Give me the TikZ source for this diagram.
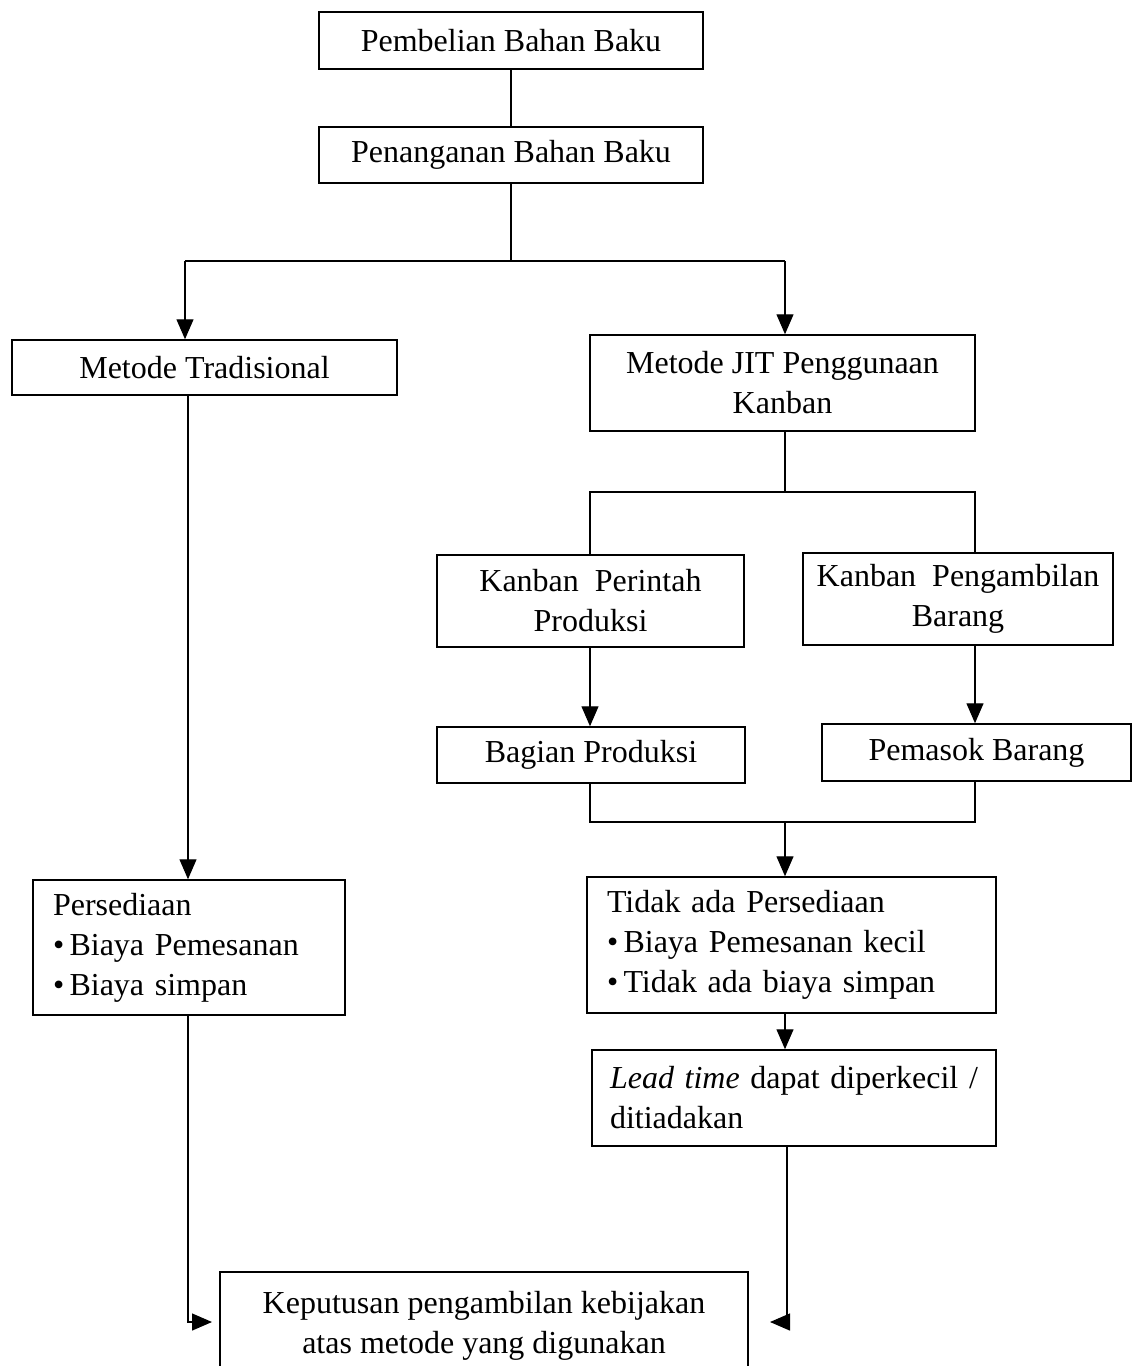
\documentclass[tikz,border=0pt]{standalone}
\usepackage{fontspec}
\setmainfont{Liberation Serif}
\usetikzlibrary{arrows.meta}
\begin{document}
\begin{tikzpicture}[x=1pt,y=-1pt,
  box/.style={draw, line width=1.5pt, inner sep=0pt, align=center,
    font=\fontsize{32}{40}\selectfont},
  lbox/.style={draw, line width=1.5pt, inner xsep=20pt, inner ysep=0pt, align=left,
    font=\fontsize{32}{40}\selectfont},
  conn/.style={line width=1.3pt},
  arr/.style={line width=1.3pt, -{Triangle[length=20pt,width=17pt]}}]
\useasboundingbox (0,0) rectangle (1137,1366);
\fill[white] (0,0) rectangle (1137,1366);

\node[box, minimum width=384pt, minimum height=57pt] (b1) at (511,40.5) {Pembelian Bahan Baku};
\node[box, minimum width=384pt, minimum height=56pt] (b2) at (511,155) {Penanganan Bahan Baku};
\node[box, minimum width=385pt, minimum height=55pt] (b3) at (204.5,367.5) {Metode Tradisional};
\node[box, minimum width=385pt, minimum height=96pt] (b4) at (782.5,383) {Metode JIT Penggunaan\\Kanban};
\node[box, minimum width=307pt, minimum height=92pt] (b5) at (590.5,601) {Kanban\ \ Perintah\\Produksi};
\node[box, minimum width=310pt, minimum height=92pt] (b6) at (958,599) {Kanban\ \ Pengambilan\\Barang};
\node[box, minimum width=308pt, minimum height=56pt] (b7) at (591,755) {Bagian Produksi};
\node[box, minimum width=309pt, minimum height=57pt] (b8) at (976.5,752.5) {Pemasok Barang};
\node[lbox, text width=369pt, minimum height=136pt] (b9) at (791.5,945)
  {Tidak ada Persediaan\\\textbullet\,Biaya Pemesanan kecil\\\textbullet\,Tidak ada biaya simpan};
\node[lbox, inner xsep=18pt, text width=368pt, minimum height=96pt] (b10) at (794,1098)
  {\mbox{\textit{Lead time} dapat diperkecil /}\\ditiadakan};
\node[lbox, text width=272pt, minimum height=135pt] (b11) at (189,947.5)
  {Persediaan\\\textbullet\,Biaya Pemesanan\\\textbullet\,Biaya simpan};
\node[box, minimum width=528pt, minimum height=108pt] (b12) at (484,1326)
  {Keputusan pengambilan kebijakan\\atas metode yang digunakan};

% connectors
\draw[conn] (b1.south) -- (b2.north);
\coordinate (j1) at (511,261);
\draw[conn] (b2.south) -- (j1);
\draw[conn] (185,261) coordinate (j1l) -- (785,261) coordinate (j1r);
\draw[arr] (j1l) -- (j1l |- b3.north);
\draw[arr] (j1r) -- (j1r |- b4.north);

\coordinate (j2) at (785,492);
\draw[conn] (j2 |- b4.south) -- (j2);
\coordinate (j2l) at (590,492);
\coordinate (j2r) at (975,492);
\draw[conn] (j2l |- b5.north) -- (j2l) -- (j2r) -- (j2r |- b6.north);

\draw[arr] (j2l |- b5.south) -- (j2l |- b7.north);
\draw[arr] (j2r |- b6.south) -- (j2r |- b8.north);

\coordinate (j3l) at (590,822);
\coordinate (j3r) at (975,822);
\coordinate (j3) at (785,822);
\draw[conn] (j3l |- b7.south) -- (j3l) -- (j3r) -- (j3r |- b8.south);
\draw[arr] (j3) -- (j3 |- b9.north);
\draw[arr] (j3 |- b9.south) -- (j3 |- b10.north);

\coordinate (e1) at (212,1322);
\coordinate (e2) at (770,1322);
\draw[arr] (188,0 |- b3.south) -- (188,0 |- b11.north);
\draw[arr] (188,0 |- b11.south) |- (e1);
\draw[arr] (787,0 |- b10.south) |- (e2);
\end{tikzpicture}
\end{document}
